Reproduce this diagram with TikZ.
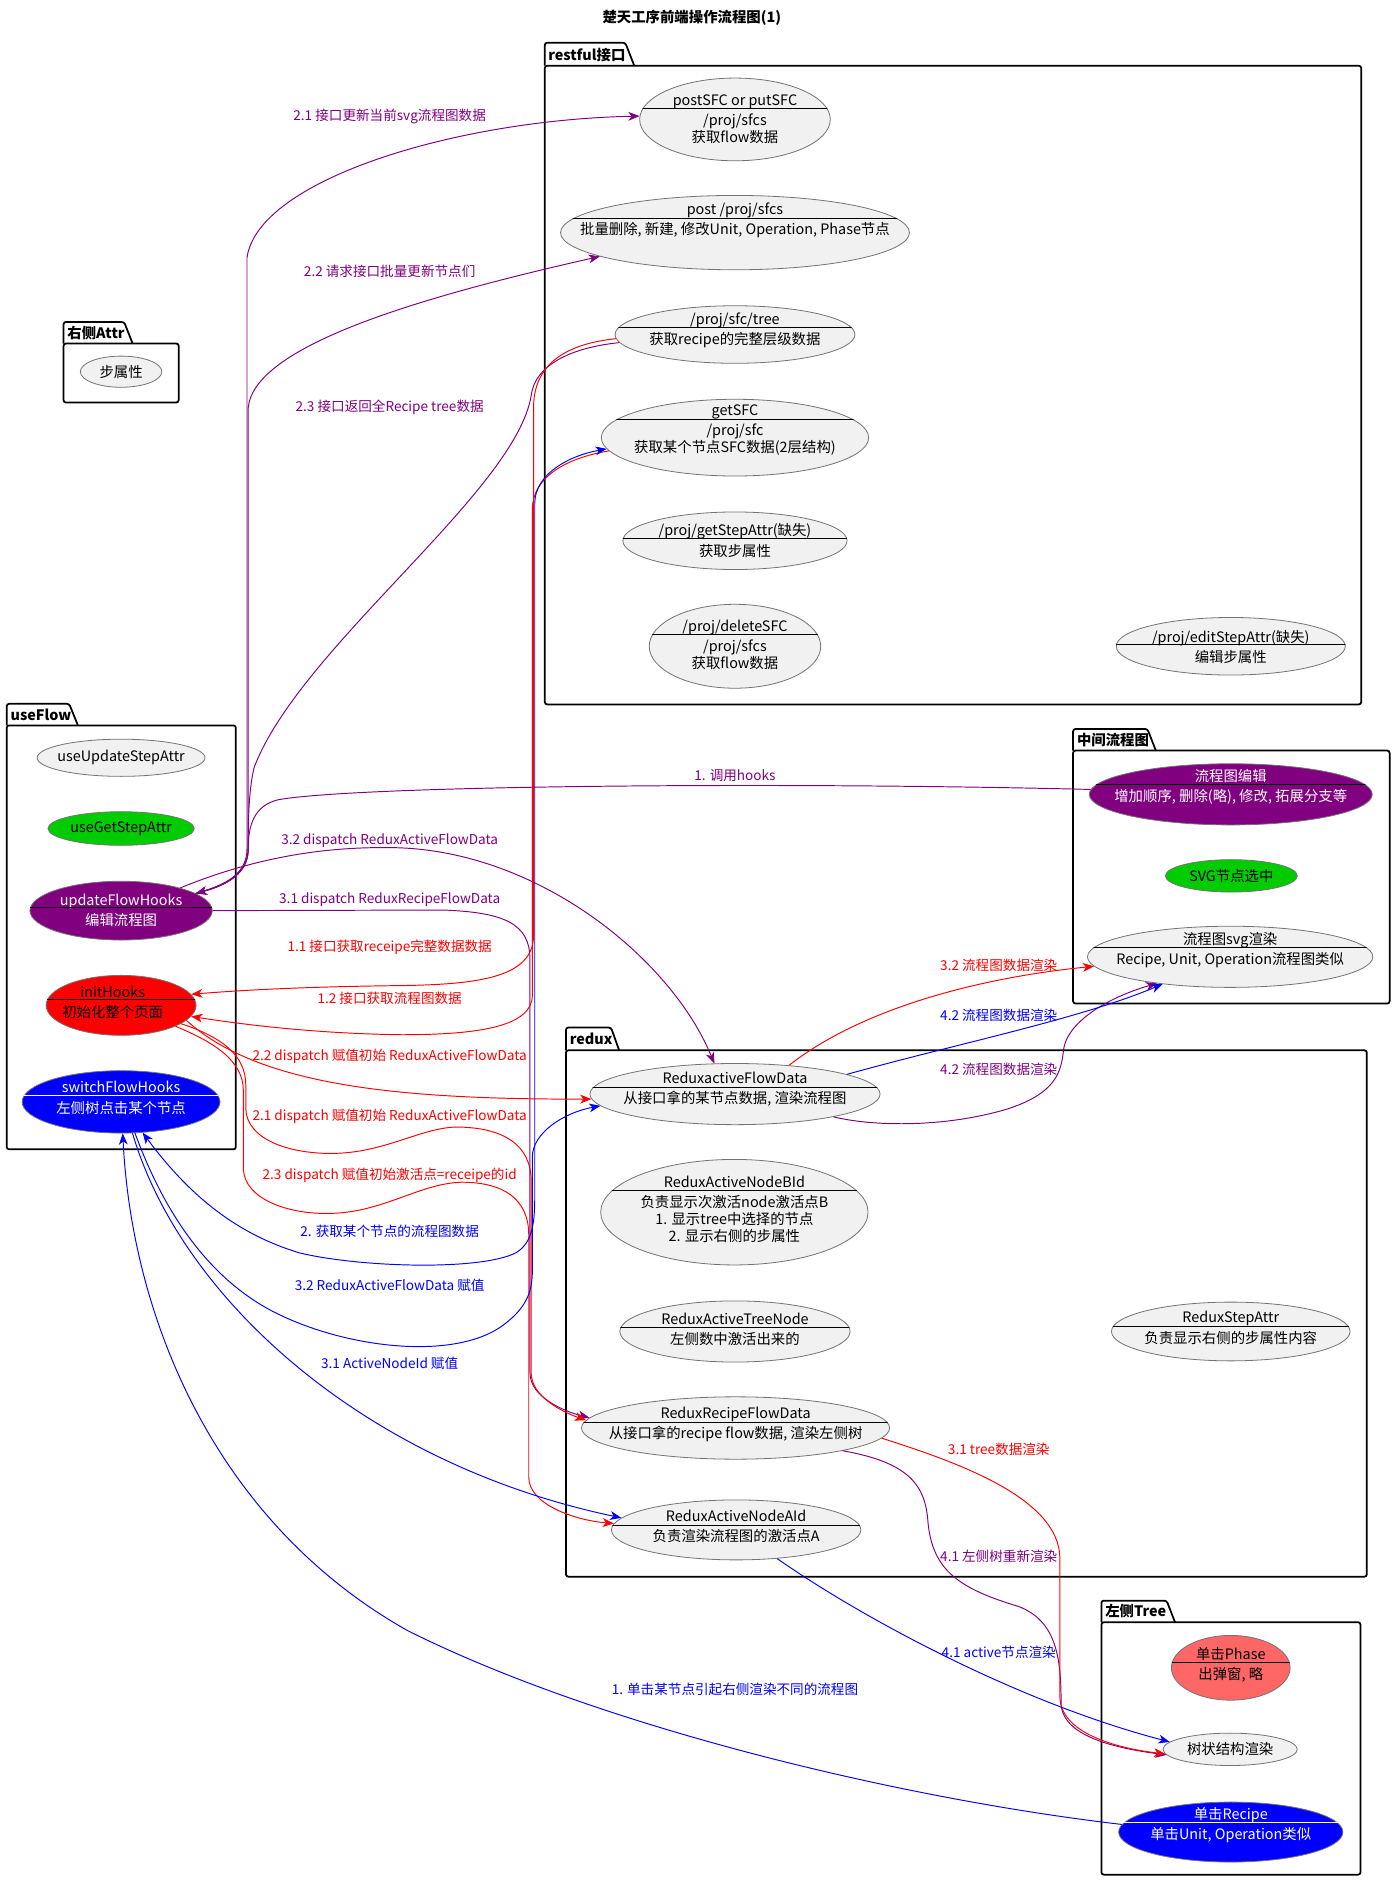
\documentclass[tikz,border=0pt]{standalone}
\usepackage{fontspec}
\setmainfont{Noto Sans CJK SC}
\usetikzlibrary{arrows.meta,shapes.geometric,calc}
\definecolor{ucfill}{RGB}{241,241,241}
\definecolor{ucline}{RGB}{115,115,115}
\definecolor{hookpurple}{RGB}{128,0,128}
\definecolor{hookred}{RGB}{255,0,0}
\definecolor{hookblue}{RGB}{0,0,255}
\definecolor{hookgreen}{RGB}{0,204,0}
\definecolor{phasered}{RGB}{255,102,102}
\newcommand{\ucfont}{\fontsize{9pt}{10.6pt}\selectfont}
\newcommand{\lblfont}{\fontsize{8.5pt}{10pt}\selectfont}
% separator line of a use case, clipped to its ellipse
\newcommand{\ucsep}[3][black]{%
  \begin{scope}
    \path[clip] let \p0=(#2.center), \p1=(#2.east), \p2=(#2.north) in
      (\p0) ellipse [x radius=\x1-\x0, y radius=\y2-\y0];
    \draw[#1, line width=0.6pt] (#2.west |- 0,#3) -- (#2.east |- 0,#3);
  \end{scope}}

\begin{document}
\begin{tikzpicture}[
  x=0.75pt, y=-0.75pt,
  uc/.style={ellipse, draw=ucline, line width=0.5pt, fill=ucfill, inner sep=0pt},
  ucsize/.style 2 args={minimum width=#1*0.75pt, minimum height=#2*0.75pt},
  uctext/.style={align=center, font=\ucfont, inner sep=0pt},
  pkg/.style={draw=black, line width=1.1pt, rounded corners=1.5pt},
  pkgname/.style={anchor=west, font=\bfseries\ucfont, inner sep=0pt},
  lbl/.style={font=\lblfont, inner sep=1pt},
  flow/.style={-{Stealth[length=7pt,width=5.5pt,inset=2pt]}, line width=0.6pt},
  pflow/.style={flow, draw=hookpurple},
  rflow/.style={flow, draw=hookred},
  bflow/.style={flow, draw=hookblue},
  bflowboth/.style={bflow, {Stealth[length=7pt,width=5.5pt,inset=2pt]}-{Stealth[length=7pt,width=5.5pt,inset=2pt]}}
]
\fill[white] (0,0) rectangle (1163,1568);
\useasboundingbox (0,0) rectangle (1163,1568);

\node[font=\bfseries\ucfont] (title) at (577,15) {楚天工序前端操作流程图(1)};

% packages
\draw[pkg] (454.4,54.8) rectangle (1135.3,587.5);
\draw[pkg] (454.4,54.8) |- (521.5,35.6) -- (529,54.8);
\node[pkgname] (pkg-rest) at (457,45.5) {restful接口};

\draw[pkg] (53,286.5) rectangle (149,335.7);
\draw[pkg] (53,286.5) |- (103.5,268.5) -- (110.6,286.5);
\node[pkgname] (pkg-attr) at (56,277.5) {右侧Attr};

\draw[pkg] (5.6,605) rectangle (196.7,958.6);
\draw[pkg] (5.6,605) |- (57.7,587) -- (65,605);
\node[pkgname] (pkg-flow) at (8.6,596) {useFlow};

\draw[pkg] (895,626) rectangle (1159,837);
\draw[pkg] (895,626) |- (957,608) -- (964,626);
\node[pkgname] (pkg-mid) at (898,617) {中间流程图};

\draw[pkg] (472,876) rectangle (1140,1315);
\draw[pkg] (472,876) |- (509.6,857) -- (516.4,876);
\node[pkgname] (pkg-redux) at (475,866.5) {redux};

\draw[pkg] (918.6,1353) rectangle (1134.7,1563.5);
\draw[pkg] (918.6,1353) |- (973,1335) -- (980,1353);
\node[pkgname] (pkg-tree) at (921.6,1344) {左侧Tree};

% restful接口
\node[uc, ucsize={159}{69}] (postsfc) at (613,99.6) {};
\node[uctext] (postsfc-t) at (613,99.6) {postSFC or putSFC\\[2pt]/proj/sfcs\\获取flow数据};
\ucsep{postsfc}{90.7}
\node[uc, ucsize={291}{62}] (postsfcs) at (613,194) {};
\node[uctext] (postsfcs-t) at (613,184) {post /proj/sfcs\\[2pt]批量删除, 新建, 修改Unit, Operation, Phase节点};
\ucsep{postsfcs}{182}
\node[uc, ucsize={200}{48}] (sfctree) at (613,279) {};
\node[uctext] (sfctree-t) at (613,275.3) {/proj/sfc/tree\\[2pt]获取recipe的完整层级数据};
\ucsep{sfctree}{273}
\node[uc, ucsize={223}{64}] (getsfc) at (613,365) {};
\node[uctext] (getsfc-t) at (613,358.3) {getSFC\\[2pt]/proj/sfc\\获取某个节点SFC数据(2层结构)};
\ucsep{getsfc}{349.6}
\node[uc, ucsize={187}{48}] (getattr) at (613,451) {};
\node[uctext] (getattr-t) at (613,450.8) {/proj/getStepAttr(缺失)\\[2pt]获取步属性};
\ucsep{getattr}{449}
\node[uc, ucsize={143}{70}] (delsfc) at (613,539) {};
\node[uctext] (delsfc-t) at (613,537.7) {/proj/deleteSFC\\[2pt]/proj/sfcs\\获取flow数据};
\ucsep{delsfc}{529}
\node[uc, ucsize={191}{48}] (editattr) at (1026.5,539) {};
\node[uctext] (editattr-t) at (1026.5,539.3) {/proj/editStepAttr(缺失)\\[2pt]编辑步属性};
\ucsep{editattr}{537.4}

% 右侧Attr
\node[uc, ucsize={68}{26}] (attrstep) at (101,310) {};
\node[uctext] (attrstep-t) at (101,310) {步属性};

% useFlow
\node[uc, ucsize={140}{31}] (updattr) at (101,632) {};
\node[uctext] (updattr-t) at (101,632) {useUpdateStepAttr};
\node[uc, ucsize={122}{28}, fill=hookgreen] (getstep) at (101,691) {};
\node[uctext] (getstep-t) at (101,691) {useGetStepAttr};
\node[uc, ucsize={152}{49}, fill=hookpurple] (updflow) at (101,759.5) {};
\node[uctext, text=white] (updflow-t) at (101,759.3) {updateFlowHooks\\[2pt]编辑流程图};
\ucsep{updflow}{757}
\node[uc, ucsize={125}{50}, fill=hookred] (inithk) at (101,838.5) {};
\node[uctext] (inithk-t) at (94,836) {initHooks\\[2pt]初始化整个页面};
\ucsep{inithk}{833.8}
\node[uc, ucsize={165}{52}, fill=hookblue] (switchhk) at (101,919) {};
\node[uctext, text=white] (switchhk-t) at (101,915.6) {switchFlowHooks\\[2pt]左侧树点击某个节点};
\ucsep[white]{switchhk}{914}

% 中间流程图
\node[uc, ucsize={236}{51}, fill=hookpurple] (flowedit) at (1026.5,662.5) {};
\node[uctext, text=white] (flowedit-t) at (1026.5,656.5) {流程图编辑\\[2pt]增加顺序, 删除(略), 修改, 拓展分支等};
\ucsep{flowedit}{654}
\node[uc, ucsize={110}{27}, fill=hookgreen] (svgsel) at (1027,730.5) {};
\node[uctext] (svgsel-t) at (1027,730.5) {SVG节点选中};
\node[uc, ucsize={238}{51}] (svgrender) at (1026,798) {};
\node[uctext] (svgrender-t) at (1026,792.3) {流程图svg渲染\\[2pt]Recipe, Unit, Operation流程图类似};
\ucsep{svgrender}{790}

% redux
\node[uc, ucsize={242}{51}] (rdxflow) at (613,912.5) {};
\node[uctext] (rdxflow-t) at (613,908.5) {ReduxactiveFlowData\\[2pt]从接口拿的某节点数据, 渲染流程图};
\ucsep{rdxflow}{907}
\node[uc, ucsize={223}{88}] (rdxnodeb) at (612.5,1011) {};
\node[uctext] (rdxnodeb-t) at (612.5,1008.5) {ReduxActiveNodeBId\\[2pt]负责显示次激活node激活点B\\1. 显示tree中选择的节点\\2. 显示右侧的步属性};
\ucsep{rdxnodeb}{993}
\node[uc, ucsize={192}{51}] (rdxtree) at (613,1110.5) {};
\node[uctext] (rdxtree-t) at (613,1108.5) {ReduxActiveTreeNode\\[2pt]左侧数中激活出来的};
\ucsep{rdxtree}{1107}
\node[uc, ucsize={199}{49}] (rdxstep) at (1026.5,1110.5) {};
\node[uctext] (rdxstep-t) at (1026.5,1107.5) {ReduxStepAttr\\[2pt]负责显示右侧的步属性内容};
\ucsep{rdxstep}{1106}
\node[uc, ucsize={257}{52}] (rdxrecipe) at (613.5,1191) {};
\node[uctext] (rdxrecipe-t) at (613.5,1188) {ReduxRecipeFlowData\\[2pt]从接口拿的recipe flow数据, 渲染左侧树};
\ucsep{rdxrecipe}{1186}
\node[uc, ucsize={208}{50}] (rdxnodea) at (614,1276) {};
\node[uctext] (rdxnodea-t) at (614,1273.2) {ReduxActiveNodeAId\\[2pt]负责渲染流程图的激活点A};
\ucsep{rdxnodea}{1272}

% 左侧Tree
\node[uc, ucsize={99}{54}, fill=phasered] (clickphase) at (1026.5,1391) {};
\node[uctext] (clickphase-t) at (1026.5,1388.3) {单击Phase\\[2pt]出弹窗, 略};
\ucsep{clickphase}{1386.5}
\node[uc, ucsize={112}{27}] (treerender) at (1026,1459) {};
\node[uctext] (treerender-t) at (1026,1459) {树状结构渲染};
\node[uc, ucsize={187}{50}, fill=hookblue] (clickrec) at (1026.5,1528) {};
\node[uctext, text=white] (clickrec-t) at (1026.5,1522) {单击Recipe\\[2pt]单击Unit, Operation类似};
\ucsep[white]{clickrec}{1520}

% purple connectors
\draw[pflow] (flowedit.178) .. controls (650,652) and (300,655) .. (232,667) .. controls (212,672) and (207,688) .. (207,708) .. controls (207,728) and (190,738) .. (updflow.13);
\draw[pflow] (sfctree.184) .. controls (475,290) and (446,305) .. (443,330) .. controls (430,410) and (250,540) .. (212,640) .. controls (207,660) and (207,690) .. (207,708) .. controls (207,728) and (190,738) .. (updflow.13);
\draw[pflow] (updflow.13) .. controls (190,738) and (206,728) .. (206,708) -- (206,215) .. controls (215,150) and (380,100) .. (postsfc.178);
\draw[pflow] (updflow.13) .. controls (190,738) and (207,728) .. (207,708) -- (207,340) .. controls (212,290) and (340,250) .. (postsfcs.190);
\draw[pflow] (updflow.21) .. controls (220,712) and (280,706) .. (330,707) .. controls (450,710) and (560,800) .. (rdxflow.124);
\draw[pflow] (updflow.east) -- (370,759) .. controls (420,761) and (442,770) .. (442,800) -- (442,1145) .. controls (442,1165) and (470,1177) .. (rdxrecipe.176);
\draw[pflow] (rdxflow.-13) .. controls (730,940) and (790,940) .. (840,925) .. controls (880,912) and (885,895) .. (887,876) .. controls (890,850) and (930,830) .. (svgrender.200);
\draw[pflow] (rdxrecipe.-12) .. controls (760,1220) and (772,1240) .. (774,1270) .. controls (778,1310) and (800,1325) .. (850,1340) .. controls (880,1352) and (885,1380) .. (885,1420) .. controls (885,1448) and (930,1458) .. (treerender.185);

% red connectors
\draw[rflow] (sfctree.182) .. controls (470,287) and (445,305) .. (445,340) -- (445,780) .. controls (445,815) and (400,821) .. (335,822) .. controls (250,823) and (200,826) .. (inithk.9);
\draw[rflow] (getsfc.186) .. controls (472,382) and (444,398) .. (444,425) -- (444,830) .. controls (444,856) and (400,863) .. (335,863) .. controls (260,862) and (200,854) .. (inithk.-9);
\draw[rflow] (inithk.-13) .. controls (215,905) and (330,917) .. (rdxflow.182);
\draw[rflow] (inithk.-17) .. controls (185,865) and (205,880) .. (205,905) -- (205,925) .. controls (206,950) and (240,962) .. (276,962) .. controls (320,962) and (350,941) .. (380,940) .. controls (420,940) and (443,955) .. (443,985) -- (443,1145) .. controls (443,1165) and (470,1178) .. (rdxrecipe.177);
\draw[rflow] (inithk.-21) .. controls (180,870) and (203,885) .. (203,910) -- (203,975) .. controls (204,1000) and (240,1013) .. (276,1012) .. controls (320,1011) and (350,987) .. (385,986) .. controls (420,986) and (441,1000) .. (441,1030) -- (441,1232) .. controls (441,1255) and (480,1268) .. (rdxnodea.177);
\draw[rflow] (rdxflow.28) .. controls (720,840) and (820,815) .. (svgrender.184);
\draw[rflow] (rdxrecipe.-4) .. controls (800,1220) and (884,1250) .. (884,1300) -- (884,1415) .. controls (884,1445) and (930,1458) .. (treerender.184);

% blue connectors
\draw[bflowboth] (switchhk.-55) .. controls (160,1000) and (200,1030) .. (250,1045) .. controls (300,1057) and (400,1060) .. (430,1045) .. controls (442,1038) and (446,1025) .. (446,1000) -- (446,420) .. controls (446,395) and (475,380) .. (getsfc.185);
\draw[bflow] (switchhk.-66) .. controls (140,1020) and (180,1070) .. (230,1095) .. controls (290,1125) and (380,1135) .. (420,1105) .. controls (437,1092) and (444,1080) .. (444,1060) -- (444,965) .. controls (444,945) and (470,928) .. (rdxflow.185);
\draw[bflow] (switchhk.-70) .. controls (150,1080) and (300,1220) .. (rdxnodea.174);
\draw[bflow] (clickrec.176) .. controls (750,1500) and (500,1440) .. (340,1360) .. controls (180,1270) and (110,1100) .. (switchhk.-87);
\draw[bflow] (rdxflow.10) .. controls (800,870) and (900,850) .. (svgrender.202);
\draw[bflow] (rdxnodea.-35) .. controls (720,1350) and (850,1420) .. (treerender.173);

% connector labels
\node[lbl, text=hookpurple] (lbl-p21) at (325,97) {2.1 接口更新当前svg流程图数据};
\node[lbl, text=hookpurple] (lbl-p22) at (325,226) {2.2 请求接口批量更新节点们};
\node[lbl, text=hookpurple] (lbl-p23) at (325,340) {2.3 接口返回全Recipe tree数据};
\node[lbl, text=hookpurple] (lbl-p1) at (613,647) {1. 调用hooks};
\node[lbl, text=hookpurple] (lbl-p32) at (325,701) {3.2 dispatch ReduxActiveFlowData};
\node[lbl, text=hookpurple] (lbl-p31) at (325,750) {3.1 dispatch ReduxRecipeFlowData};
\node[lbl, text=hookred] (lbl-r11) at (325,790) {1.1 接口获取receipe完整数据数据};
\node[lbl, text=hookred] (lbl-r12) at (325,833) {1.2 接口获取流程图数据};
\node[lbl, text=hookred] (lbl-r22) at (325,881) {2.2 dispatch 赋值初始 ReduxActiveFlowData};
\node[lbl, text=hookred] (lbl-r21) at (325,931) {2.1 dispatch 赋值初始 ReduxActiveFlowData};
\node[lbl, text=hookred] (lbl-r23) at (325,980) {2.3 dispatch 赋值初始激活点=receipe的id};
\node[lbl, text=hookblue] (lbl-b2) at (325,1027) {2. 获取某个节点的流程图数据};
\node[lbl, text=hookblue] (lbl-b32) at (325,1072) {3.2 ReduxActiveFlowData 赋值};
\node[lbl, text=hookblue] (lbl-b31) at (325,1137) {3.1 ActiveNodeId 赋值};
\node[lbl, text=hookblue] (lbl-b1) at (613,1409) {1. 单击某节点引起右侧渲染不同的流程图};
\node[lbl, text=hookred] (lbl-r32) at (833,805) {3.2 流程图数据渲染};
\node[lbl, text=hookblue] (lbl-b42) at (833,847) {4.2 流程图数据渲染};
\node[lbl, text=hookpurple] (lbl-p42) at (833,892) {4.2 流程图数据渲染};
\node[lbl, text=hookred] (lbl-r31) at (833,1209) {3.1 tree数据渲染};
\node[lbl, text=hookpurple] (lbl-p41) at (833,1298) {4.1 左侧树重新渲染};
\node[lbl, text=hookblue] (lbl-b41) at (833,1378) {4.1 active节点渲染};
\end{tikzpicture}
\end{document}
